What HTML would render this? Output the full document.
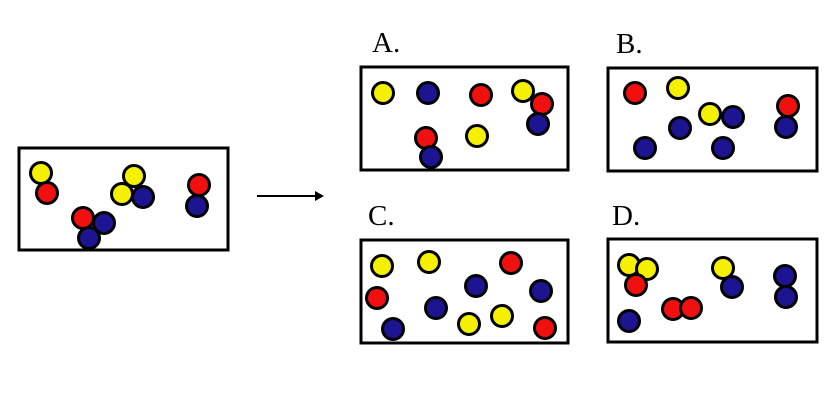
<!DOCTYPE html>
<html><head><style>body{margin:0;background:#fff}</style></head><body>
<svg width="830" height="402" xmlns="http://www.w3.org/2000/svg" style="display:block">
<rect width="830" height="402" fill="#fff"/>
<g fill="none" stroke="#000" stroke-width="3">
<rect x="19" y="148" width="209" height="102"/>
<rect x="361" y="67" width="207" height="103"/>
<rect x="608" y="68" width="209" height="103"/>
<rect x="361" y="240" width="207" height="103"/>
<rect x="608" y="239" width="209" height="103"/>
</g>
<line x1="257" y1="196" x2="318" y2="196" stroke="#000" stroke-width="2"/>
<polygon points="315,191 324,196 315,201" fill="#000"/>
<g font-family="Liberation Serif, serif" font-size="29" fill="#000">
<text x="372" y="52">A.</text><text x="616" y="53">B.</text>
<text x="368" y="225">C.</text><text x="612" y="225">D.</text>
</g>
<defs>
<circle id="y" r="10.5" fill="#f5f000" stroke="#000" stroke-width="3"/>
<circle id="r" r="10.5" fill="#f01010" stroke="#000" stroke-width="3"/>
<circle id="b" r="10.5" fill="#1c1490" stroke="#000" stroke-width="3"/>
</defs>
<use href="#y" x="41" y="173"/><use href="#r" x="47" y="193"/>
<use href="#y" x="134" y="176"/><use href="#y" x="122" y="194"/><use href="#b" x="143" y="197"/>
<use href="#r" x="83" y="218"/><use href="#b" x="104" y="223"/><use href="#b" x="89" y="238"/>
<use href="#r" x="199" y="185"/><use href="#b" x="197" y="206"/>

<use href="#y" x="383" y="93"/><use href="#b" x="428" y="93"/><use href="#r" x="481" y="95"/>
<use href="#y" x="523" y="91"/><use href="#r" x="542" y="104"/><use href="#b" x="538" y="124"/>
<use href="#r" x="426" y="138"/><use href="#b" x="431" y="157"/><use href="#y" x="477" y="136"/>

<use href="#r" x="635" y="93"/><use href="#y" x="678" y="88"/><use href="#y" x="710" y="114"/>
<use href="#b" x="733" y="117"/><use href="#b" x="680" y="128"/><use href="#b" x="645" y="148"/>
<use href="#b" x="723" y="148"/><use href="#r" x="788" y="106"/><use href="#b" x="786" y="127"/>

<use href="#y" x="382" y="266"/><use href="#y" x="429" y="262"/><use href="#r" x="511" y="263"/>
<use href="#b" x="476" y="286"/><use href="#b" x="541" y="291"/><use href="#r" x="377" y="298"/>
<use href="#b" x="436" y="308"/><use href="#b" x="393" y="329"/><use href="#y" x="469" y="324"/>
<use href="#y" x="502" y="316"/><use href="#r" x="545" y="328"/>

<use href="#y" x="629" y="265"/><use href="#y" x="647" y="269"/><use href="#r" x="636" y="285"/>
<use href="#y" x="723" y="268"/><use href="#b" x="732" y="287"/><use href="#b" x="785" y="276"/>
<use href="#b" x="786" y="297"/><use href="#r" x="673" y="309"/><use href="#r" x="691" y="308"/>
<use href="#b" x="629" y="321"/>
</svg>
</body></html>
